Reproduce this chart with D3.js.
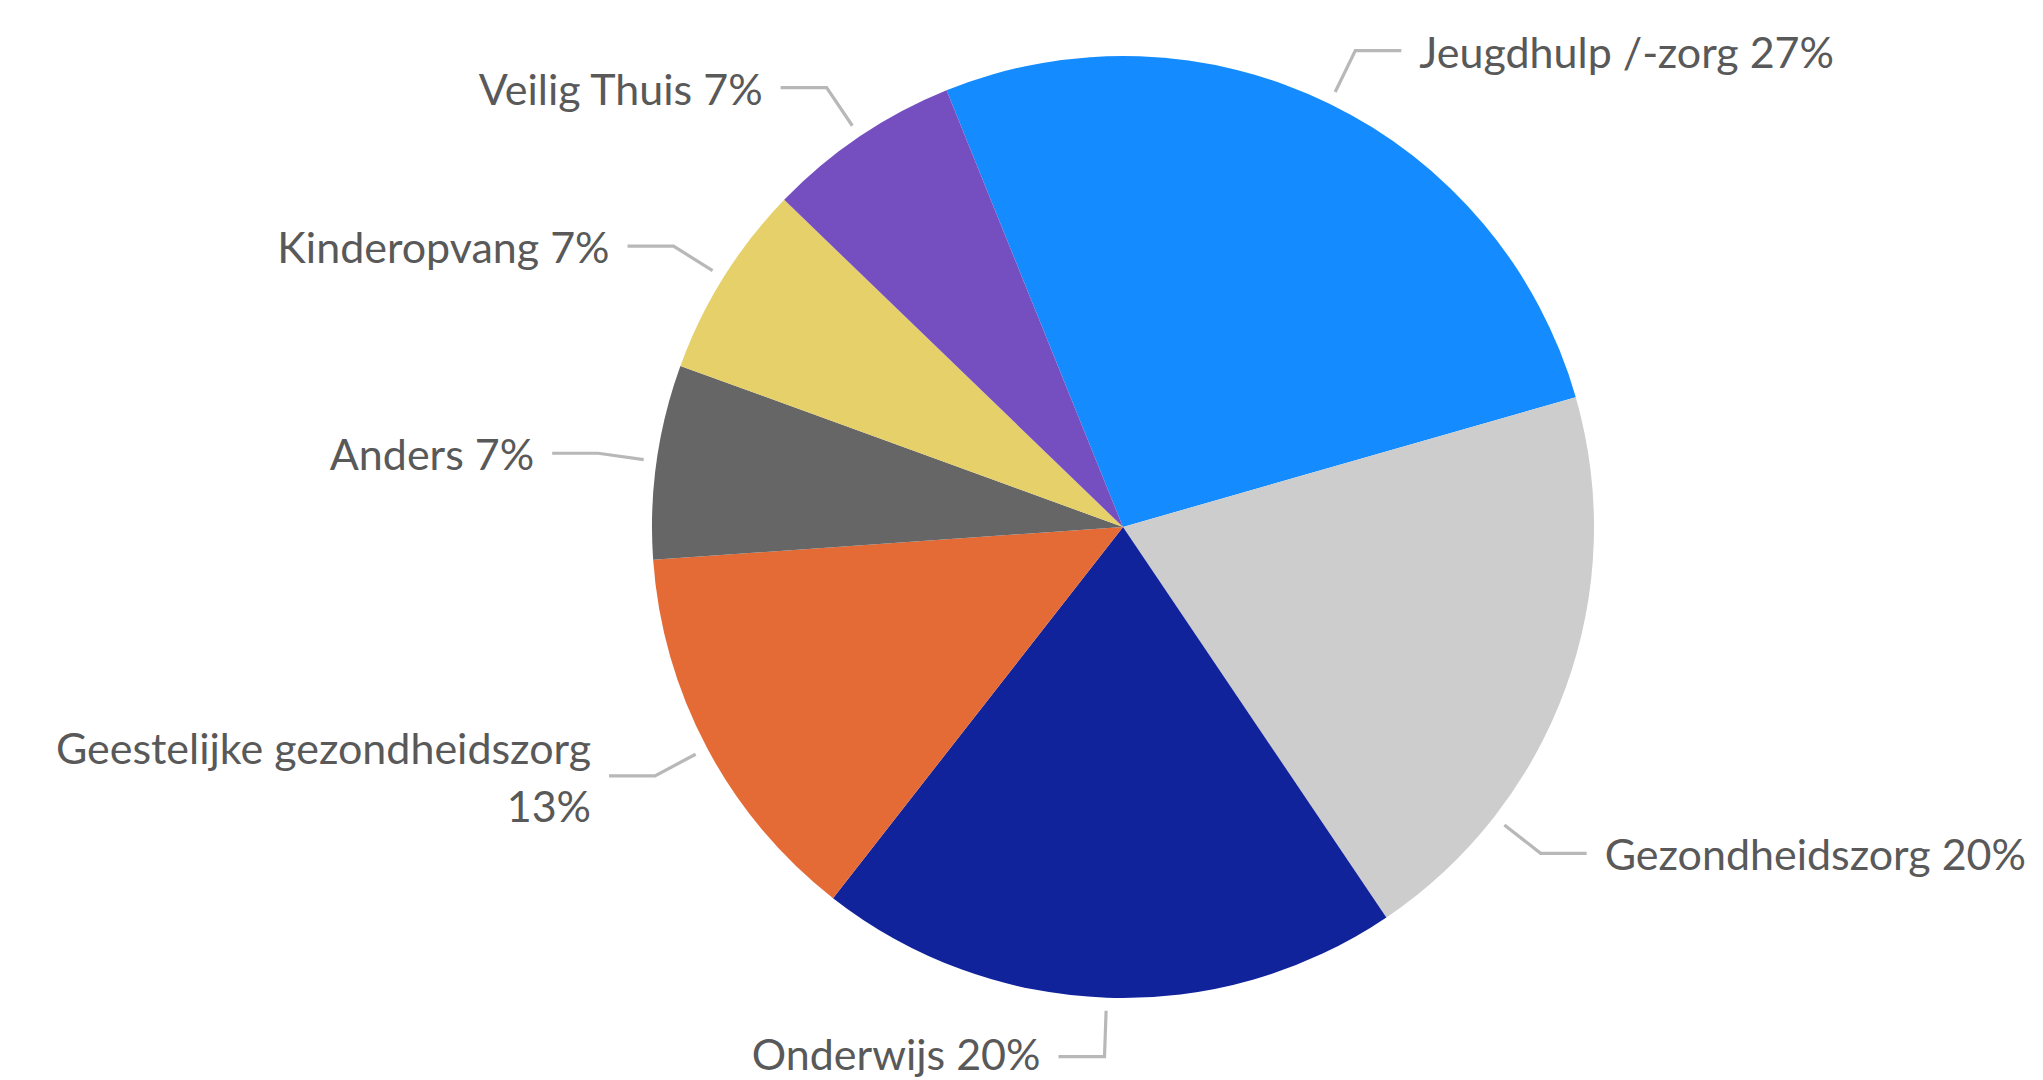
<!DOCTYPE html>
<html>
<head>
<meta charset="utf-8">
<script src="https://cdn.jsdelivr.net/npm/d3@7"></script>
<style>
  html, body { margin: 0; padding: 0; background: #ffffff; }
  svg { display: block; }
  .lbl { font-family: Lato, "Open Sans", sans-serif; fill: #595959; }
</style>
</head>
<body>
<svg id="chart" width="2043" height="1080"></svg>
<script>
// Sectors where the reports came from (number of reports)
const categories = [
  "Jeugdhulp /-zorg",
  "Gezondheidszorg",
  "Onderwijs",
  "Geestelijke gezondheidszorg",
  "Anders",
  "Kinderopvang",
  "Veilig Thuis"
];
const counts = [4, 3, 3, 2, 1, 1, 1];
const sliceColors = ["#148CFF", "#CDCDCD", "#10239A", "#E46B36", "#666666", "#E6D069", "#754FC0"];

// layout settings
const W = 2043, H = 1080;
const cx = 1123, cy = 527, radius = 471;
const rotation = -22 * Math.PI / 180;     // first slice starts 22° left of twelve o'clock
const labelNudge = { "Gezondheidszorg": 18 }; // degrees the label anchor is shifted along the rim
const anchorR = 484, elbowR = 530, armLen = 46, textGap = 18;
const fontSize = 43, lineGap = 58, baselineDrop = 17;
const maxBaseline = H - 10 - cy;          // keep descenders inside the frame

const total = d3.sum(counts);
const pct = d3.format(".0%");

const data = categories.map((c, i) => ({ name: c, value: counts[i], color: sliceColors[i] }));

const pie = d3.pie()
  .value(d => d.value)
  .sort(null)
  .startAngle(rotation)
  .endAngle(rotation + 2 * Math.PI);

const arc = d3.arc().innerRadius(0).outerRadius(radius);

const svg = d3.select("#chart");
const g = svg.append("g").attr("transform", `translate(${cx},${cy})`);

const arcs = pie(data);

g.selectAll("path.slice")
  .data(arcs)
  .join("path")
  .attr("class", "slice")
  .attr("d", arc)
  .attr("fill", d => d.data.color);

// point on a circle of radius r at angle a (radians, clockwise from twelve o'clock)
const polar = (r, a) => [r * Math.sin(a), -r * Math.cos(a)];

const labels = g.selectAll("g.label")
  .data(arcs)
  .join("g")
  .attr("class", "label");

labels.each(function (d) {
  const sel = d3.select(this);
  const mid = (d.startAngle + d.endAngle) / 2 + ((labelNudge[d.data.name] || 0) * Math.PI / 180);
  const right = Math.sin(mid) > 0;
  const dir = right ? 1 : -1;
  const p0 = polar(anchorR, mid);
  const p1 = polar(elbowR, mid);
  const p2 = [p1[0] + dir * armLen, p1[1]];

  sel.append("polyline")
    .attr("points", [p0, p1, p2].map(p => p.join(",")).join(" "))
    .attr("fill", "none")
    .attr("stroke", "#B8B8B8")
    .attr("stroke-width", 3.2);

  const text = `${d.data.name} ${pct(d.data.value / total)}`;
  const lines = d.data.name.length > 20
    ? [d.data.name, pct(d.data.value / total)]
    : [text];

  const t = sel.append("text")
    .attr("class", "lbl")
    .attr("font-size", fontSize)
    .attr("text-anchor", right ? "start" : "end");

  const x = p2[0] + dir * textGap;
  const y0 = p2[1] + baselineDrop - (lines.length - 1) * lineGap / 2;
  lines.forEach((ln, i) => {
    t.append("tspan")
      .attr("x", x)
      .attr("y", Math.min(y0 + i * lineGap, maxBaseline))
      .text(ln);
  });
});
</script>
</body>
</html>
